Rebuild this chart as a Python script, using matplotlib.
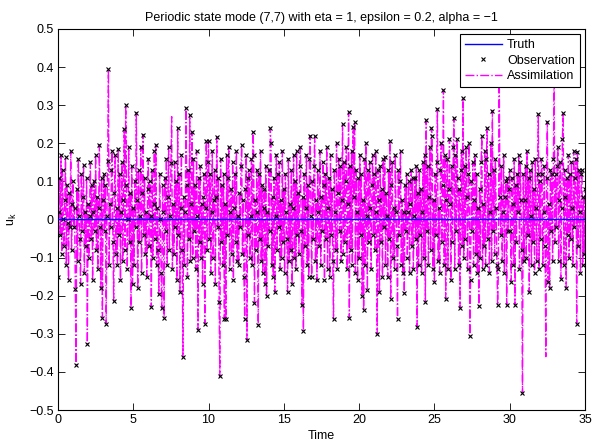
import numpy as np
import matplotlib
matplotlib.use('Agg')
import matplotlib.pyplot as plt

plt.rcParams['font.family'] = ['Liberation Sans', 'DejaVu Sans']

# time grid of the filter output (dt = 0.05, 0..35)
t_start, t_end, dt = 0.0, 35.0, 0.05

# assimilation values, one row per time unit
assim = [
    -0.15, 0.02, 0.11, -0.04, 0.17, -0.09, 0.13, 0.00, -0.07, 0.05, 0.163, -0.12, 0.09, -0.01, -0.16, 0.07, -0.02, 0.18, -0.08, 0.04,
    0.10, -0.02, 0.03, -0.183, -0.381, 0.08, -0.11, 0.16, 0.01, -0.05, -0.17, 0.12, -0.03, 0.06, 0.143, -0.14, 0.02, -0.07, 0.11, -0.327,
    0.04, -0.10, 0.01, 0.15, -0.05, 0.09, -0.16, 0.02, 0.10, -0.03, 0.17, -0.08, 0.06, -0.13, 0.03, 0.196, -0.02, -0.18, 0.11, -0.259,
    0.05, 0.12, -0.03, 0.09, -0.273, 0.01, 0.154, 0.394, -0.12, 0.04, -0.02, 0.13, 0.181, -0.06, -0.214, 0.07, 0.17, -0.09, 0.03, -0.12,
    0.186, -0.04, 0.12, -0.16, 0.02, 0.15, -0.11, 0.05, 0.237, -0.08, 0.30, 0.09, -0.13, 0.00, 0.19, -0.06, 0.07, -0.233, 0.14, -0.17,
    0.03, -0.12, 0.10, -0.02, 0.28, 0.05, -0.18, 0.13, -0.06, 0.01, 0.19, -0.14, 0.07, 0.223, -0.04, 0.11, -0.09, 0.02, -0.15, 0.08,
    0.16, -0.07, 0.10, 0.01, -0.23, 0.13, -0.10, 0.04, 0.18, -0.05, 0.196, -0.12, 0.03, -0.08, -0.196, 0.12, 0.00, -0.14, -0.233, 0.09,
    0.02, -0.258, 0.11, -0.03, 0.16, -0.12, 0.06, 0.19, -0.08, 0.01, 0.149, 0.27, -0.13, 0.04, -0.09, 0.15, -0.02, 0.10, -0.16, 0.241,
    -0.04, 0.12, -0.19, 0.03, 0.17, -0.08, -0.361, 0.06, -0.12, 0.02, 0.293, 0.09, -0.15, 0.13, -0.05, 0.274, -0.11, 0.04, 0.23, -0.10,
    0.16, -0.03, 0.09, -0.13, 0.18, 0.01, -0.289, 0.11, -0.06, 0.14, -0.10, 0.04, -0.17, 0.06, 0.12, -0.273, 0.03, 0.206, -0.08, 0.15,
    0.205, -0.05, 0.12, -0.14, 0.02, 0.18, -0.10, 0.05, 0.13, -0.17, 0.06, 0.217, -0.02, 0.11, -0.216, -0.412, 0.16, -0.06, 0.09, -0.12,
    0.12, -0.26, 0.04, -0.262, 0.17, -0.04, 0.11, 0.19, -0.13, 0.02, 0.08, -0.09, 0.15, -0.16, 0.03, 0.12, -0.06, 0.18, -0.11, 0.01,
    -0.12, 0.07, -0.02, 0.14, 0.195, -0.09, 0.05, -0.15, -0.26, 0.08, 0.17, -0.316, 0.11, -0.04, 0.13, -0.10, 0.01, 0.16, -0.12, 0.23,
    0.17, -0.22, 0.05, -0.08, 0.13, 0.02, -0.277, 0.12, -0.05, 0.18, -0.11, 0.09, -0.14, 0.03, 0.08, -0.17, 0.14, -0.2, 0.02, -0.07,
    0.13, -0.03, 0.239, 0.2, -0.12, 0.06, -0.15, 0.11, -0.19, 0.01, 0.17, -0.08, 0.12, -0.02, 0.15, -0.13, 0.05, -0.10, 0.18, -0.06,
    0.08, -0.14, 0.12, 0.02, -0.05, -0.19, 0.16, -0.11, 0.04, -0.08, 0.13, -0.17, 0.03, 0.168, -0.10, 0.10, -0.13, 0.18, -0.04, 0.07,
    -0.09, 0.14, 0.19, -0.03, -0.225, 0.06, -0.293, 0.12, -0.07, 0.03, 0.17, -0.12, 0.09, -0.15, 0.16, 0.22, 0.01, -0.15, 0.10, -0.05,
    0.14, 0.218, -0.11, 0.05, -0.16, 0.13, 0.02, -0.07, 0.18, -0.12, 0.06, -0.03, 0.15, 0.09, -0.16, 0.12, -0.05, 0.19, -0.13, 0.03,
    0.11, -0.15, 0.17, -0.04, 0.08, -0.11, -0.261, 0.13, 0.02, -0.08, 0.2, -0.13, 0.07, 0.16, -0.03, 0.14, -0.11, 0.05, 0.25, -0.09,
    0.15, -0.06, 0.10, 0.19, -0.13, 0.04, 0.281, -0.258, 0.14, -0.08, 0.18, -0.12, 0.242, 0.06, 0.257, -0.14, 0.13, 0.02, -0.16, 0.11,
    -0.10, 0.17, -0.04, 0.12, -0.2, 0.05, -0.238, 0.16, -0.12, 0.2, 0.01, -0.185, 0.13, -0.06, 0.15, 0.03, -0.13, 0.09, 0.17, -0.04,
    0.12, -0.08, 0.18, 0.02, -0.301, 0.13, 0.05, -0.19, 0.14, -0.06, 0.08, -0.15, 0.16, -0.02, 0.165, -0.12, 0.07, 0.01, -0.15, 0.13,
    -0.05, 0.207, -0.208, 0.09, 0.15, -0.10, 0.03, -0.13, 0.17, 0.02, -0.07, -0.261, 0.13, -0.04, 0.10, 0.18, -0.12, 0.05, -0.14, 0.02,
    -0.194, 0.09, -0.03, 0.12, -0.10, 0.02, 0.1, -0.14, 0.04, 0.13, -0.07, 0.11, -0.13, 0.01, 0.11, -0.05, 0.14, -0.281, 0.07, -0.12,
    0.13, -0.04, 0.08, -0.14, 0.02, 0.15, -0.10, 0.17, -0.216, 0.26, -0.03, 0.14, -0.12, 0.06, 0.19, -0.08, 0.24, 0.22, -0.13, 0.05,
    -0.163, 0.12, -0.04, 0.15, 0.29, -0.11, 0.03, -0.14, 0.13, 0.20, -0.06, 0.09, 0.34, -0.12, 0.17, -0.208, 0.05, 0.16, -0.13, 0.08,
    0.21, 0.04, -0.16, 0.14, -0.06, 0.19, 0.266, -0.13, 0.17, -0.03, 0.21, 0.11, -0.12, 0.08, -0.232, 0.13, 0.18, -0.07, 0.32, -0.10,
    0.14, -0.05, 0.19, 0.06, -0.13, 0.12, 0.20, -0.306, -0.16, 0.10, -0.03, 0.15, -0.12, 0.05, 0.17, -0.09, 0.12, -0.14, 0.03, -0.227,
    0.08, -0.10, 0.15, 0.22, -0.13, 0.04, -0.07, 0.18, -0.12, 0.16, 0.24, -0.05, 0.12, -0.14, 0.02, 0.20, -0.11, 0.286, -0.03, 0.13,
    -0.09, 0.16, 0.03, -0.12, -0.224, -0.13, 0.42, 0.06, -0.04, 0.14, -0.11, 0.02, 0.17, -0.14, 0.06, 0.10, -0.224, 0.11, -0.03, 0.08,
    0.13, -0.03, -0.163, 0.11, 0.04, -0.12, 0.16, -0.224, 0.09, -0.06, 0.12, 0.02, 0.17, -0.13, 0.15, 0.05, -0.08, -0.455, 0.12, -0.11,
    0.05, 0.14, -0.10, 0.18, -0.04, 0.11, -0.19, 0.13, 0.01, -0.12, 0.15, -0.06, 0.08, -0.14, 0.16, 0.03, -0.11, 0.12, 0.276, -0.13,
    0.10, -0.05, 0.16, 0.12, -0.12, 0.02, 0.14, -0.07, -0.36, 0.11, 0.257, -0.165, 0.04, -0.18, 0.13, -0.03, 0.12, -0.11, 0.16, 0.40,
    -0.06, 0.12, -0.02, 0.14, 0.19, -0.11, 0.05, 0.15, -0.155, 0.03, 0.21, 0.28, -0.12, 0.13, 0.06, -0.18, 0.11, -0.04, 0.17, -0.10,
    0.12, -0.05, 0.15, 0.03, -0.12, 0.18, -0.02, 0.11, 0.16, -0.273, 0.178, -0.07, 0.13, 0.02, -0.14, 0.12, 0.13, -0.12, 0.06, -0.09,
    0.08,
]

# samples where the filter spikes but no observation mark is drawn
no_obs_idx = [151, 586, 648, 659]

# truth is the zero state
truth_t = [0.0, 35.0]
truth_u = [0.0, 0.0]

xticks = [0, 5, 10, 15, 20, 25, 30, 35]
yticks = [-0.5, -0.4, -0.3, -0.2, -0.1, 0, 0.1, 0.2, 0.3, 0.4, 0.5]
ytick_labels = ['\u22120.5', '\u22120.4', '\u22120.3', '\u22120.2', '\u22120.1', '0',
                '0.1', '0.2', '0.3', '0.4', '0.5']

time = t_start + dt * np.arange(len(assim))
assim = np.array(assim)
obs = assim.copy()
obs[no_obs_idx] = np.nan

fig = plt.figure(figsize=(5.99, 4.46), dpi=100)
ax = fig.add_axes([0.0968, 0.0807, 0.8798, 0.8543])

ax.plot(truth_t, truth_u, color='#0000ff', lw=1.0, label='Truth', zorder=4)
ax.plot(time, obs, 'x', color='black', ms=3, mew=0.8, label='Observation', zorder=3)
ax.plot(time, assim, '-.', color='#ff00ff', lw=1.0, label='Assimilation', zorder=2)

ax.set_xlim(0, 35)
ax.set_ylim(-0.5, 0.5)
ax.set_xticks(xticks)
ax.set_yticks(yticks)
ax.set_yticklabels(ytick_labels)
ax.tick_params(direction='in', length=5, width=0.6, top=True, right=True, labelsize=9, pad=3)
for sp in ax.spines.values():
    sp.set_linewidth(0.8)

ax.set_title('Periodic state mode (7,7) with eta = 1, epsilon = 0.2, alpha = \u22121', fontsize=9, pad=6)
ax.set_xlabel('Time', fontsize=9, labelpad=3)
ax.set_ylabel(r'$\mathregular{u_k}$', fontsize=9, labelpad=7)

leg = ax.legend(loc='upper right', fontsize=9, numpoints=1, handlelength=3.0,
                fancybox=False, framealpha=1, edgecolor='black', borderpad=0.4,
                labelspacing=0.3, handletextpad=0.4, borderaxespad=0.4)
leg.get_frame().set_linewidth(0.8)

fig.savefig('out.png', dpi=100)
